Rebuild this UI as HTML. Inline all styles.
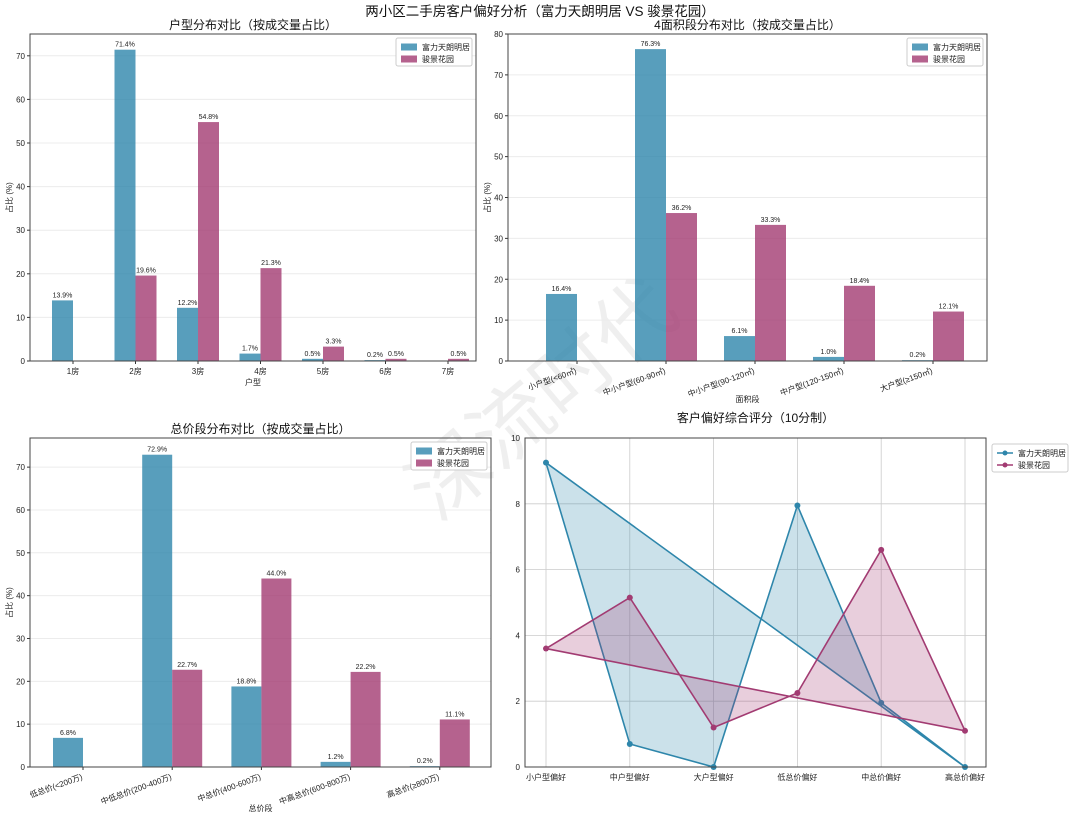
<!DOCTYPE html>
<html><head><meta charset="utf-8"><style>
body{margin:0;background:#fff;}
svg{display:block;font-family:"Liberation Sans","Noto Sans CJK SC",sans-serif;}
</style></head><body>
<svg id="s" width="1080" height="818" viewBox="0 0 1080 818" xmlns="http://www.w3.org/2000/svg">
<text x="540" y="16" font-size="13.5" text-anchor="middle" fill="#111">两小区二手房客户偏好分析（富力天朗明居 VS 骏景花园）</text>
<text x="560" y="420" font-size="80" fill="#000" opacity="0.06" text-anchor="middle" transform="rotate(-40 560 420)">深流时代</text>
</svg>
<script>
const roomCats=["1房","2房","3房","4房","5房","6房","7房"];
const roomA=[13.9,71.4,12.2,1.7,0.5,0.2,0];
const roomB=[0,19.6,54.8,21.3,3.3,0.5,0.5];
const areaCats=["小户型(<60㎡)","中小户型(60-90㎡)","中小户型(90-120㎡)","中户型(120-150㎡)","大户型(≥150㎡)"];
const areaA=[16.4,76.3,6.1,1.0,0.2];
const areaB=[0,36.2,33.3,18.4,12.1];
const priceCats=["低总价(<200万)","中低总价(200-400万)","中总价(400-600万)","中高总价(600-800万)","高总价(≥800万)"];
const priceA=[6.8,72.9,18.8,1.2,0.2];
const priceB=[0,22.7,44.0,22.2,11.1];
const scoreCats=["小户型偏好","中户型偏好","大户型偏好","低总价偏好","中总价偏好","高总价偏好"];
const scoreA=[9.25,0.7,0,7.95,1.95,0];
const scoreB=[3.6,5.15,1.2,2.25,6.6,1.1];
const seriesNames=["富力天朗明居","骏景花园"];

const S=document.getElementById('s');const NS="http://www.w3.org/2000/svg";
function mk(tag,at,txt){const e=document.createElementNS(NS,tag);for(const k in at)e.setAttribute(k,at[k]);if(txt!==undefined)e.textContent=txt;S.appendChild(e);return e;}
const CA="#2E86AB",CB="#A23B72";

function barPanel(p){
  const ys=v=>p.b-(v/p.ymax)*(p.b-p.t);
  const xs=i=>p.x0+i*p.dx;
  for(let v=0;v<=p.ymax;v+=10){
    if(v>0){const g=mk('line',{x1:p.l,x2:p.r,y1:ys(v),y2:ys(v),stroke:"#ececec","stroke-width":1});
    }
    const t=mk('text',{x:p.l-5,y:ys(v)+3,"font-size":8,"text-anchor":"end",fill:"#222"},String(v));
    
    mk('line',{x1:p.l-3,x2:p.l,y1:ys(v),y2:ys(v),stroke:"#333"});
  }
  p.cats.forEach((c,i)=>{
    [[p.A,CA,-1],[p.B,CB,0]].forEach(([arr,col,off])=>{
      const v=arr[i];const x=xs(i)+off*p.w;
      const r=mk('rect',{x:x,y:ys(v),width:p.w,height:p.b-ys(v),fill:col,"fill-opacity":0.8});
      
      if(v>0){const t=mk('text',{x:x+p.w/2,y:ys(v)-3,"font-size":7,"text-anchor":"middle",fill:"#222"},v.toFixed(1)+"%");
      }
    });
    mk('line',{x1:xs(i),x2:xs(i),y1:p.b,y2:p.b+3,stroke:"#333"});
    let t;
    if(p.rot){t=mk('text',{x:xs(i),y:p.b+12,"font-size":8,"text-anchor":"end",fill:"#222",transform:`rotate(-20 ${xs(i)} ${p.b+12})`},c);}
    else t=mk('text',{x:xs(i),y:p.b+13,"font-size":8,"text-anchor":"middle",fill:"#222"},c);
    
  });
  const fr=mk('rect',{x:p.l,y:p.t,width:p.r-p.l,height:p.b-p.t,fill:"none",stroke:"#444","stroke-width":1});
  
  let t=mk('text',{x:(p.l+p.r)/2,y:p.t-5,"font-size":12,"text-anchor":"middle",fill:"#111"},p.title);
  
  t=mk('text',{x:(p.l+p.r)/2,y:p.xly,"font-size":8,"text-anchor":"middle",fill:"#222"},p.xl);
  
  const cy=(p.t+p.b)/2;
  t=mk('text',{x:p.l-18,y:cy,"font-size":8,"text-anchor":"middle",fill:"#222",transform:`rotate(-90 ${p.l-18} ${cy})`},"占比 (%)");
  
  legend(p.r-80,p.t+4,false);
}
function legend(x,y,line){
  const bg=mk('rect',{x:x,y:y,width:76,height:28,fill:"#fff",stroke:"#ccc",rx:2});
  
  seriesNames.forEach((n,i)=>{
    const yy=y+9+i*12,col=i?CB:CA;
    if(line){mk('line',{x1:x+5,x2:x+21,y1:yy,y2:yy,stroke:col,"stroke-width":1.5});mk('circle',{cx:x+13,cy:yy,r:2.5,fill:col});}
    else mk('rect',{x:x+5,y:yy-3.5,width:16,height:7,fill:col,"fill-opacity":0.8});
    const t=mk('text',{x:x+26,y:yy+3,"font-size":8,fill:"#222"},n);
    
  });
}
barPanel({cats:roomCats,A:roomA,B:roomB,l:30,r:476,t:34,b:361,ymax:75,x0:73,dx:62.5,w:21,title:"户型分布对比（按成交量占比）",xl:"户型",xly:385});
barPanel({cats:areaCats,A:areaA,B:areaB,l:508,r:987,t:34,b:361,ymax:80,x0:577,dx:89,w:31,rot:true,title:"4面积段分布对比（按成交量占比）",xl:"面积段",xly:402});
barPanel({cats:priceCats,A:priceA,B:priceB,l:30,r:491,t:438,b:767,ymax:76.8,x0:83,dx:89.2,w:30,rot:true,title:"总价段分布对比（按成交量占比）",xl:"总价段",xly:811});

(function(){
  const l=525,r=986,t=438,b=767;
  const ys=v=>b-(v/10)*(b-t),xs=i=>546+i*83.8;
  for(let v=0;v<=10;v+=2){
    if(v>0&&v<10)mk('line',{x1:l,x2:r,y1:ys(v),y2:ys(v),stroke:"#ccc","stroke-width":0.8});
    const tx=mk('text',{x:l-5,y:ys(v)+3,"font-size":8,"text-anchor":"end",fill:"#222"},String(v));
    
  }
  scoreCats.forEach((c,i)=>{
    mk('line',{x1:xs(i),x2:xs(i),y1:t,y2:b,stroke:"#ccc","stroke-width":0.8});
    const tx=mk('text',{x:xs(i),y:b+13,"font-size":8,"text-anchor":"middle",fill:"#222"},c);
    
  });
  [[scoreA,CA,'a'],[scoreB,CB,'b']].forEach(([arr,col,k])=>{
    const pts=arr.map((v,i)=>xs(i)+","+ys(v));pts.push(pts[0]);
    const f=mk('polygon',{points:pts.join(" "),fill:col,"fill-opacity":0.25});
    
    const pl=mk('polyline',{points:pts.join(" "),fill:"none",stroke:col,"stroke-width":1.6});
    
    arr.forEach((v,i)=>{const c=mk('circle',{cx:xs(i),cy:ys(v),r:3,fill:col});
      });
  });
  const fr=mk('rect',{x:l,y:t,width:r-l,height:b-t,fill:"none",stroke:"#444"});
  
  const tt=mk('text',{x:(l+r)/2,y:t-16,"font-size":12,"text-anchor":"middle",fill:"#111"},"客户偏好综合评分（10分制）");
  
  legend(992,444,true);
})();
</script>
</body></html>
